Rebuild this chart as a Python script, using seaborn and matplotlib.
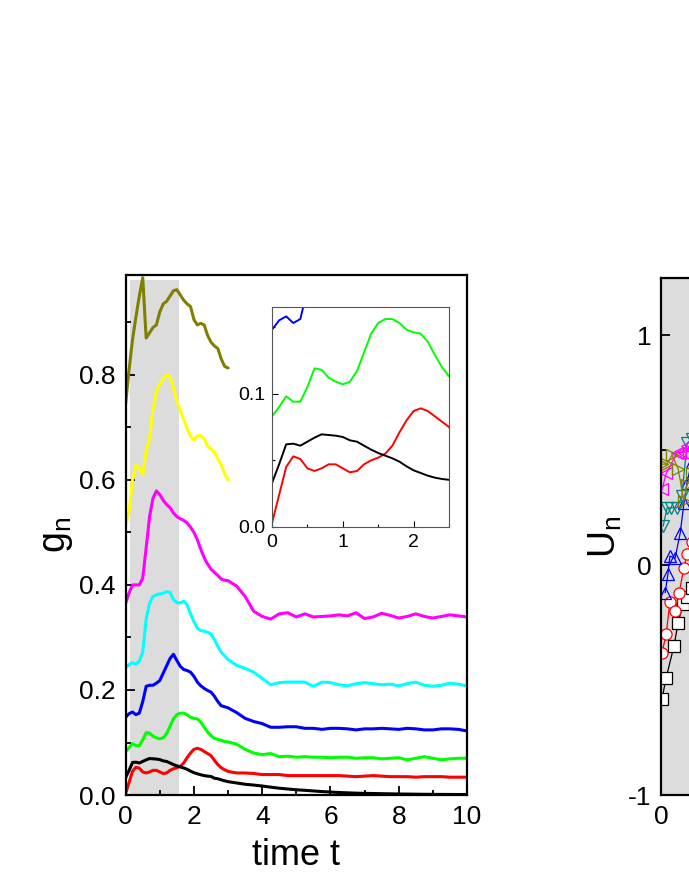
import matplotlib
matplotlib.use("Agg")
import matplotlib.pyplot as plt
import seaborn as sns
import pandas as pd
from matplotlib.ticker import MultipleLocator

# time grid (fine up to t=3, coarser afterwards)
t = [0.0, 0.1, 0.2, 0.3, 0.4, 0.5, 0.6, 0.7, 0.8, 0.9,
     1.0, 1.1, 1.2, 1.3, 1.4, 1.5, 1.6, 1.7, 1.8, 1.9,
     2.0, 2.1, 2.2, 2.3, 2.4, 2.5, 2.6, 2.7, 2.8, 2.9,
     3.0,
     3.25, 3.5, 3.75, 4.0, 4.25, 4.5, 4.75, 5.0,
     5.25, 5.5, 5.75, 6.0, 6.25, 6.5, 6.75, 7.0,
     7.25, 7.5, 7.75, 8.0, 8.25, 8.5, 8.75, 9.0,
     9.25, 9.5, 9.75, 10.0]

g_black = [0.033, 0.047, 0.062, 0.0625, 0.061, 0.064, 0.067, 0.0695, 0.069, 0.0685,
           0.0675, 0.065, 0.064, 0.061, 0.058, 0.0555, 0.0535, 0.0515, 0.049, 0.0455,
           0.0425, 0.0405, 0.0385, 0.037, 0.036, 0.0354, 0.032, 0.031, 0.029, 0.027,
           0.0255,
           0.023, 0.0205, 0.019, 0.0172, 0.015, 0.013, 0.0115, 0.010,
           0.009, 0.0078, 0.0066, 0.0057, 0.0049, 0.0042, 0.0036, 0.0032,
           0.0029, 0.0026, 0.0023, 0.002, 0.0018, 0.0016, 0.0014, 0.0013,
           0.0012, 0.0011, 0.001, 0.001]
g_red = [0.003, 0.024, 0.045, 0.053, 0.051, 0.044, 0.042, 0.044, 0.047, 0.047,
         0.044, 0.041, 0.042, 0.047, 0.05, 0.052, 0.055, 0.061, 0.071, 0.08,
         0.087, 0.089, 0.087, 0.083, 0.079, 0.075, 0.066, 0.058, 0.052, 0.048,
         0.045,
         0.042, 0.042, 0.041, 0.039, 0.039, 0.039, 0.037, 0.037,
         0.037, 0.037, 0.037, 0.037, 0.037, 0.036, 0.035, 0.036,
         0.037, 0.036, 0.035, 0.035, 0.035, 0.034, 0.035, 0.035,
         0.035, 0.034, 0.034, 0.034]
g_green = [0.083, 0.09, 0.098, 0.094, 0.094, 0.105, 0.119, 0.118, 0.112, 0.109,
           0.107, 0.109, 0.117, 0.131, 0.145, 0.153, 0.156, 0.156, 0.153, 0.148,
           0.146, 0.145, 0.139, 0.129, 0.12, 0.113, 0.108, 0.106, 0.104, 0.102,
           0.101,
           0.097, 0.087, 0.08, 0.077, 0.079, 0.073, 0.074, 0.072,
           0.073, 0.072, 0.072, 0.071, 0.072, 0.072, 0.07, 0.071,
           0.071, 0.069, 0.07, 0.071, 0.067, 0.07, 0.073, 0.07,
           0.067, 0.069, 0.07, 0.07]
g_blue = [0.148, 0.155, 0.158, 0.153, 0.156, 0.178, 0.207, 0.209, 0.209, 0.213,
          0.218, 0.232, 0.246, 0.26, 0.268, 0.256, 0.245, 0.239, 0.237, 0.234,
          0.226, 0.215, 0.208, 0.203, 0.199, 0.196, 0.188, 0.178, 0.17, 0.168,
          0.166,
          0.157, 0.146, 0.14, 0.136, 0.129, 0.129, 0.13, 0.13,
          0.127, 0.127, 0.125, 0.127, 0.127, 0.126, 0.124, 0.126,
          0.126, 0.127, 0.126, 0.125, 0.127, 0.126, 0.124, 0.124,
          0.126, 0.126, 0.125, 0.122]
g_cyan = [0.243, 0.248, 0.252, 0.249, 0.255, 0.272, 0.335, 0.365, 0.378, 0.381,
          0.383, 0.384, 0.387, 0.386, 0.372, 0.366, 0.366, 0.369, 0.362, 0.345,
          0.33, 0.318, 0.313, 0.312, 0.31, 0.306, 0.296, 0.283, 0.272, 0.265,
          0.258,
          0.247, 0.241, 0.234, 0.222, 0.21, 0.214, 0.215, 0.215,
          0.215, 0.207, 0.215, 0.214, 0.21, 0.208, 0.212, 0.214,
          0.212, 0.21, 0.211, 0.208, 0.212, 0.215, 0.209, 0.207,
          0.209, 0.213, 0.211, 0.208]
g_magenta = [0.365, 0.385, 0.4, 0.4, 0.4, 0.413, 0.47, 0.53, 0.565, 0.579,
             0.572, 0.561, 0.553, 0.547, 0.537, 0.53, 0.526, 0.523, 0.518, 0.51,
             0.5, 0.486, 0.468, 0.452, 0.44, 0.43, 0.424, 0.418, 0.411, 0.409,
             0.408,
             0.398, 0.378, 0.35, 0.34, 0.335, 0.345, 0.347, 0.339,
             0.345, 0.339, 0.34, 0.341, 0.343, 0.341, 0.347, 0.336,
             0.339, 0.346, 0.342, 0.337, 0.34, 0.345, 0.34, 0.337,
             0.34, 0.343, 0.341, 0.339]
g_yellow = [0.515, 0.54, 0.6, 0.628, 0.62, 0.61, 0.655, 0.678, 0.735, 0.768,
            0.783, 0.792, 0.8, 0.797, 0.775, 0.75, 0.732, 0.715, 0.698, 0.683,
            0.676, 0.684, 0.684, 0.678, 0.664, 0.659, 0.652, 0.64, 0.628, 0.612,
            0.6]
g_olive = [0.745, 0.81, 0.867, 0.91, 0.95, 0.985, 0.87, 0.88, 0.89, 0.895,
           0.92, 0.935, 0.94, 0.95, 0.96, 0.962, 0.952, 0.942, 0.935, 0.93,
           0.905, 0.895, 0.898, 0.895, 0.875, 0.862, 0.855, 0.85, 0.83, 0.816,
           0.813]

curves = [("olive", g_olive), ("yellow", g_yellow), ("magenta", g_magenta),
          ("cyan", g_cyan), ("blue", g_blue), ("green", g_green),
          ("red", g_red), ("black", g_black)]
palette = {"black": "#000000", "red": "#ff0000", "green": "#00ff00",
           "blue": "#0000ff", "cyan": "#00ffff", "magenta": "#ff00ff",
           "yellow": "#ffff00", "olive": "#808000"}

rows = []
for name, vals in curves:
    for ti, v in zip(t, vals):
        rows.append({"t": ti, "g": v, "n": name})
df = pd.DataFrame(rows)

# right panel (only its left edge is in the picture)
u_t = {
    "sq": [0.03, 0.15, 0.38, 0.5, 0.64, 0.76, 0.9],
    "ci": [0.03, 0.15, 0.26, 0.41, 0.53, 0.67, 0.76, 0.9],
    "up": [0.12, 0.2, 0.26, 0.41, 0.56, 0.67, 0.76, 0.9],
    "dn": [0.06, 0.18, 0.29, 0.47, 0.61, 0.76, 0.9],
    "lt": [0.03, 0.15, 0.47, 0.56, 0.67, 0.76, 0.9],
    "rt": [0.03, 0.18, 0.32, 0.5, 0.67, 0.76, 0.9],
}
u_val = {
    "sq": [-0.58, -0.49, -0.35, -0.25, -0.17, -0.14, -0.1],
    "ci": [-0.38, -0.30, -0.16, -0.20, -0.12, -0.01, 0.05, 0.1],
    "up": [-0.12, -0.04, 0.04, 0.03, 0.14, 0.27, 0.36, 0.45],
    "dn": [0.17, 0.25, 0.25, 0.25, 0.30, 0.53, 0.55],
    "lt": [0.33, 0.40, 0.49, 0.49, 0.49, 0.52, 0.5],
    "rt": [0.44, 0.44, 0.48, 0.42, 0.28, 0.35, 0.4],
}
u_style = {"sq": ("s", "#000000", "white"), "ci": ("o", "#ff0000", "white"),
           "up": ("^", "#0000ff", "none"), "dn": ("v", "#008080", "none"),
           "lt": ("<", "#ff00ff", "none"), "rt": (">", "#808000", "none")}

sns.set_style("ticks")
plt.rcParams["font.family"] = ["Liberation Sans", "DejaVu Sans"]
plt.rcParams["mathtext.default"] = "regular"
plt.rcParams["axes.unicode_minus"] = False
plt.rcParams["text.color"] = "black"
plt.rcParams["axes.labelcolor"] = "black"
plt.rcParams["xtick.color"] = "black"
plt.rcParams["ytick.color"] = "black"

fig = plt.figure(figsize=(6.89, 8.92), dpi=100)

# main panel
ax = fig.add_axes([0.1824, 0.1087, 0.4954, 0.583])
ax.axvspan(0.13, 1.57, ymin=0, ymax=0.99, color="#dcdcdc", lw=0, zorder=0)
sns.lineplot(data=df, x="t", y="g", hue="n", palette=palette, lw=2.2,
             legend=False, ax=ax, estimator=None, sort=False)
ax.set_xlim(0, 10)
ax.set_ylim(0, 0.99)
ax.xaxis.set_major_locator(MultipleLocator(2))
ax.xaxis.set_minor_locator(MultipleLocator(1))
ax.yaxis.set_major_locator(MultipleLocator(0.2))
ax.yaxis.set_minor_locator(MultipleLocator(0.1))
ax.tick_params(which="major", direction="in", length=6.5, width=1.3,
               labelsize=19, pad=7, colors="black")
ax.tick_params(which="minor", direction="in", length=3.5, width=1.3, colors="black")
for s in ax.spines.values():
    s.set_linewidth(1.6)
    s.set_color("black")
ax.set_xlabel("time t", fontsize=26, labelpad=7)
ax.set_ylabel("g$_n$", fontsize=27, labelpad=3)

# inset
axin = fig.add_axes([0.3948, 0.4092, 0.2569, 0.2466])
inset = df[df["n"].isin(["black", "red", "green", "blue"]) & (df["t"] <= 2.6)]
sns.lineplot(data=inset, x="t", y="g", hue="n", palette=palette, lw=1.4,
             legend=False, ax=axin, estimator=None, sort=False)
axin.set_xlim(0, 2.5)
axin.set_ylim(0, 0.165)
axin.set_xticks([0, 1, 2])
axin.set_yticks([0.0, 0.1])
axin.xaxis.set_minor_locator(MultipleLocator(0.5))
axin.yaxis.set_minor_locator(MultipleLocator(0.05))
axin.tick_params(which="major", direction="in", length=4, width=0.8,
                 labelsize=14, pad=5, colors="black")
axin.tick_params(which="minor", direction="in", length=2.5, width=0.8, colors="black")
axin.set_xlabel("")
axin.set_ylabel("")
for s in axin.spines.values():
    s.set_linewidth(0.8)
    s.set_color("#555555")

# right panel, cut by the figure edge
ax2 = fig.add_axes([0.9594, 0.1087, 0.4964, 0.5796])
ax2.axvspan(0, 1.57, color="#dcdcdc", lw=0, zorder=0)
for key in u_t:
    m, c, fc = u_style[key]
    sns.lineplot(x=u_t[key], y=u_val[key], ax=ax2, color=c, lw=0.9,
                 marker=m, markersize=8, markerfacecolor=fc,
                 markeredgecolor=c, markeredgewidth=0.9,
                 estimator=None, sort=False)
ax2.set_xlim(0, 10)
ax2.set_ylim(-1, 1.25)
ax2.set_xticks([0])
ax2.yaxis.set_major_locator(MultipleLocator(1))
ax2.yaxis.set_minor_locator(MultipleLocator(0.5))
ax2.tick_params(which="major", direction="in", length=6.5, width=1.3,
                labelsize=19, pad=7, colors="black")
ax2.tick_params(which="minor", direction="in", length=3.5, width=1.3, colors="black")
for s in ax2.spines.values():
    s.set_linewidth(1.6)
    s.set_color("black")
ax2.set_ylabel("U$_n$", fontsize=27, labelpad=3)

fig.savefig("out.png", dpi=100)
